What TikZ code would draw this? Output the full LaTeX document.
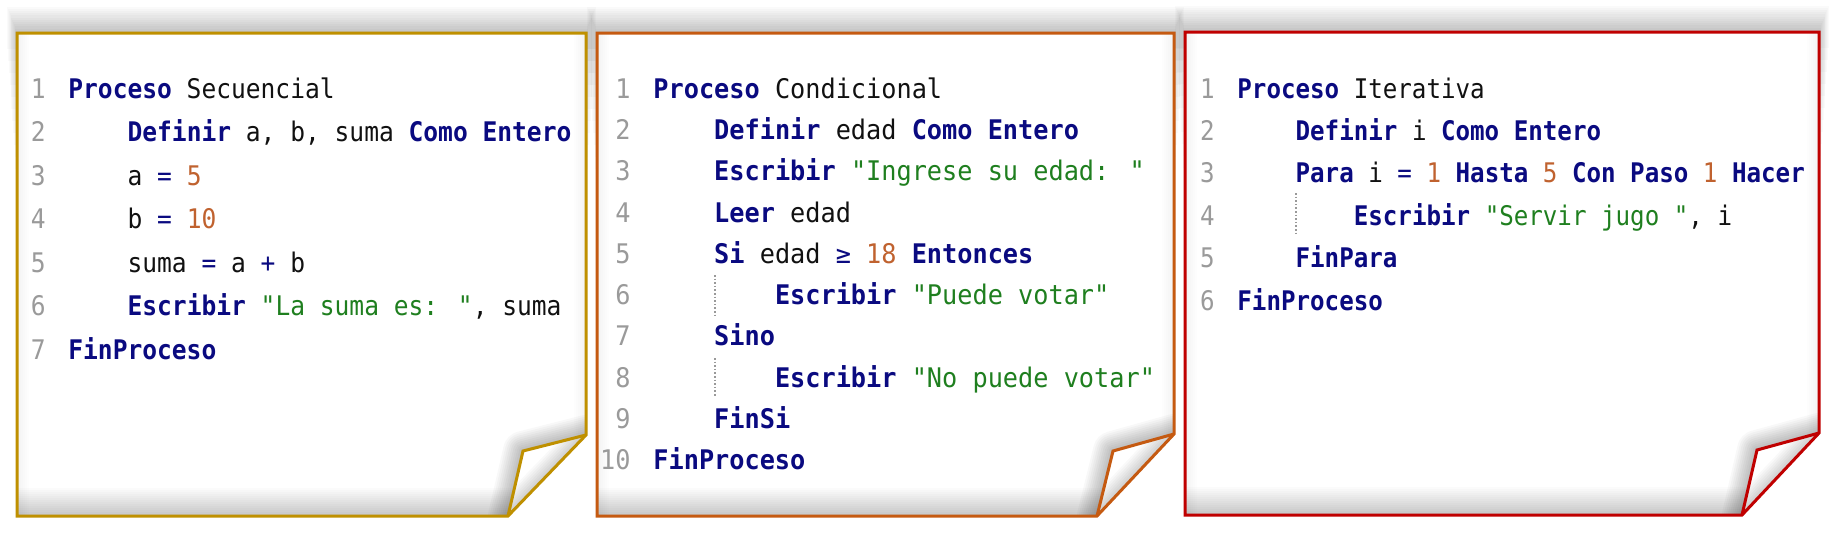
\documentclass[tikz,border=0pt]{standalone}
\usepackage{fontspec}
\newfontfamily\fontA[FakeStretch=0.91]{DejaVu Sans Mono}
\newfontfamily\fontB[FakeStretch=0.935]{DejaVu Sans Mono}
\newfontfamily\fontC[FakeStretch=0.895]{DejaVu Sans Mono}
\definecolor{kwc}{HTML}{0A0A80}
\definecolor{numc}{HTML}{C0622F}
\definecolor{strc}{HTML}{1F7F1F}
\definecolor{txtc}{HTML}{111111}
\definecolor{lnc}{HTML}{9A9A9A}
\definecolor{goldc}{HTML}{BF9000}
\definecolor{orgc}{HTML}{C55A11}
\definecolor{redc}{HTML}{C00000}
\newcommand\kw[1]{{\bfseries\color{kwc}#1}}
\newcommand\op[1]{{\color{kwc}#1}}
\newcommand\nm[1]{{\color{numc}#1}}
\newcommand\st[1]{{\color{strc}#1}}
\tikzset{
  codetxt/.style={anchor=base west, inner sep=0pt, text=txtc},
  lnum/.style={anchor=base east, inner sep=0pt, text=lnc},
  guide/.style={draw=gray!80, densely dotted, line width=0.8pt},
}
\newcommand\cl[3]{%
  \node[lnum, font=\pf] (\pn n#1) at ({\xz-22},{98+(#1-1)*\lp}) {#1};
  \node[codetxt, font=\pf] (\pn c#1) at ({\xz+#2*\cw},{98+(#1-1)*\lp}) {#3};
}
% L T R B Fy Ix Iy Bx color
\newcommand\paper[9]{%
  \foreach \i in {1,...,12} {
    \fill[black, opacity=0.018] ({#1-0.8*\i},{#2-2.2*\i}) rectangle ({#3+0.8*\i},{#2+160-12*\i});
  }
  \fill[white] (#1,#2) -- (#3,#2) -- (#3,#5) -- (#8,#4) -- (#1,#4) -- cycle;
  \begin{scope}
    \clip (#1,#2) -- (#3,#2) -- (#3,#5) -- (#8,#4) -- (#1,#4) -- cycle;
    \foreach \i in {1,...,14} {
      \fill[black, opacity=0.017] (#1,{#4-2*\i}) rectangle (#3,#4);
    }
    \foreach \i in {1,...,6} {
      \fill[black, opacity=0.008] (#1,#2) rectangle ({#1+2*\i},#4);
      \fill[black, opacity=0.008] ({#3-2*\i},#2) rectangle (#3,#4);
    }
    \foreach \w in {2,4,...,20} {
      \draw[black, opacity=0.027, line width=\w pt, line join=round] (#3,#5) -- (#6,#7) -- (#8,#4) -- cycle;
    }
  \end{scope}
  \fill[white] (#3,#5) -- (#6,#7) -- (#8,#4) -- cycle;
  \begin{scope}
    \clip (#3,#5) -- (#6,#7) -- (#8,#4) -- cycle;
    \foreach \w in {2,4,...,16} {
      \draw[black, opacity=0.025, line width=\w pt] (#3,#5) -- (#8,#4);
    }
  \end{scope}
  \draw[#9, line width=1.5pt, line join=miter] (#1,#2) -- (#3,#2) -- (#3,#5) -- (#8,#4) -- (#1,#4) -- cycle;
  \draw[#9, line width=1.5pt, line join=miter] (#3,#5) -- (#6,#7) -- (#8,#4);
}
\begin{document}
\begin{tikzpicture}[x=0.5pt, y=-0.5pt]
\useasboundingbox (0,0) rectangle (1840,537);
\fill[white] (0,0) rectangle (1840,537);

\paper{17}{33}{586}{516}{435}{523}{451}{508}{goldc}
\paper{597}{33}{1174}{516}{434}{1113}{451}{1097}{orgc}
\paper{1185}{32}{1819}{515}{433}{1757}{450}{1742}{redc}

% Panel 1
\def\pn{A}\def\xz{68}\def\cw{14.8}\def\lp{43.5}
\def\pf{\fontA\fontsize{13.5pt}{16pt}\selectfont}
\cl{1}{0}{\kw{Proceso} Secuencial}
\cl{2}{4}{\kw{Definir} a, b, suma \kw{Como Entero}}
\cl{3}{4}{a \op{=} \nm{5}}
\cl{4}{4}{b \op{=} \nm{10}}
\cl{5}{4}{suma \op{=} a \op{+} b}
\cl{6}{4}{\kw{Escribir} \st{"La suma es: "}, suma}
\cl{7}{0}{\kw{FinProceso}}

% Panel 2
\def\pn{B}\def\xz{653}\def\cw{15.2}\def\lp{41.33}
\def\pf{\fontB\fontsize{13.5pt}{16pt}\selectfont}
\cl{1}{0}{\kw{Proceso} Condicional}
\cl{2}{4}{\kw{Definir} edad \kw{Como Entero}}
\cl{3}{4}{\kw{Escribir} \st{"Ingrese su edad: "}}
\cl{4}{4}{\kw{Leer} edad}
\cl{5}{4}{\kw{Si} edad \op{≥} \nm{18} \kw{Entonces}}
\cl{6}{8}{\kw{Escribir} \st{"Puede votar"}}
\cl{7}{4}{\kw{Sino}}
\cl{8}{8}{\kw{Escribir} \st{"No puede votar"}}
\cl{9}{4}{\kw{FinSi}}
\cl{10}{0}{\kw{FinProceso}}
\draw[guide] (715,275) -- (715,315);
\draw[guide] (715,358) -- (715,397);

% Panel 3
\def\pn{C}\def\xz{1237}\def\cw{14.55}\def\lp{42.4}
\def\pf{\fontC\fontsize{13.5pt}{16pt}\selectfont}
\cl{1}{0}{\kw{Proceso} Iterativa}
\cl{2}{4}{\kw{Definir} i \kw{Como Entero}}
\cl{3}{4}{\kw{Para} i \op{=} \nm{1} \kw{Hasta} \nm{5} \kw{Con Paso} \nm{1} \kw{Hacer}}
\cl{4}{8}{\kw{Escribir} \st{"Servir jugo "}, i}
\cl{5}{4}{\kw{FinPara}}
\cl{6}{0}{\kw{FinProceso}}
\draw[guide] (1296,193) -- (1296,235);
\end{tikzpicture}
\end{document}
